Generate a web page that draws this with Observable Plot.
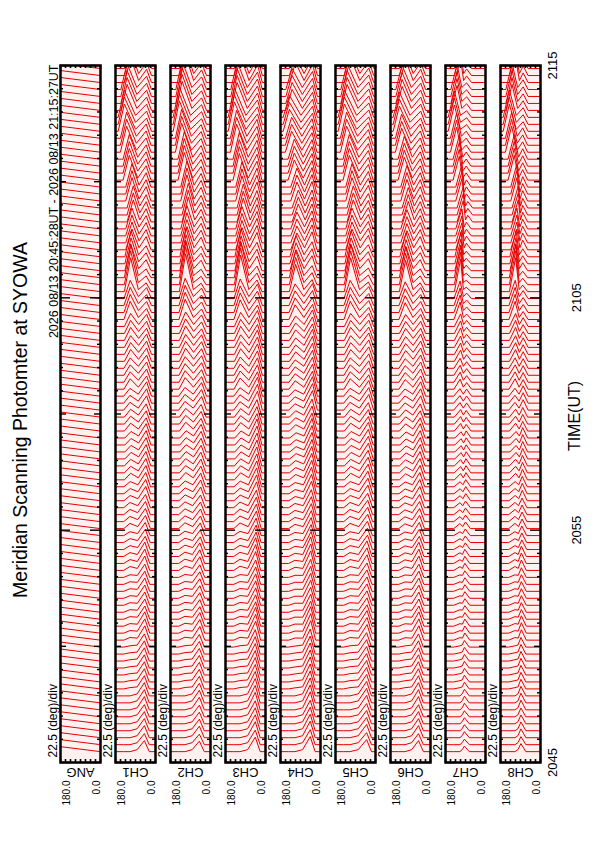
<!DOCTYPE html>
<html><head><meta charset="utf-8">
<script src="https://cdn.jsdelivr.net/npm/d3@7"></script>
<script src="https://cdn.jsdelivr.net/npm/@observablehq/plot@0.6"></script>
<style>
html,body{margin:0;padding:0;background:#fff;}
#chart{width:595px;height:842px;}
svg{font-family:"Liberation Sans",Arial,sans-serif;}
</style></head><body><div id="chart"></div>
<script>
// ---- data ----
const channels = ["ANG","CH1","CH2","CH3","CH4","CH5","CH6","CH7","CH8"];
const scanStart = 0.467;   // minutes after 20:45 (first scan 20:45:28)
const scanStep = 0.3;      // 18 s per scan
const scanCount = 100;
const angleTicks = [180,157.5,135,112.5,90,67.5,45,22.5,0];
const minuteTicks = [0,1,2,3,4,5,6,7,8,9,10,11,12,13,14,15,16,17,18,19,20,21,22,23,24,25,26,27,28,29,30];
const timeLabels = ["2045","2055","2105","2115"];
const timeLabelMinutes = [0,10,20,30];
// per-minute readings of the two auroral arcs (angle in deg, amplitude in counts)
const arcAAngle = [115,115,115,115,115,115,115,115,115,115,115,114,112,110,112,115,114,112,112,114,112,110,106,100,106,118,130,140,128,112,100];
const arcAAmp   = [0,0,0,1,1,2,2,2,3,3,4,4,5,5,6,6,8,9,10,14,26,20,16,17,18,19,20,21,20,19,18];
const arcBAngle = [50,50,50,50,50,48,48,48,48,46,45,44,43,42,42,40,40,40,40,40,42,42,42,42,42,42,42,40,40,40,40];
const arcBAmp   = [10,11,12,12,12,13,12,12,13,12,12,13,13,13,12,13,12,12,11,10,8,10,12,12,13,13,13,12,12,12,12];
// per-channel response
const gainA   = [0,1.3,1.45,1.4,1.05,1.3,1.2,1.25,1.3];
const gainB   = [0,1.1,1.05,1.45,1.5,1.2,1.1,0.55,0.8];
const offsetB = [0,0,0,-4,-4,-10,4,45,38];
const angSwing = 5;        // ANG channel deflection at 180 deg (counts)
const countsPerMinute = 23.2;

// ---- build traces ----
const rows = [];
for (let i = 0; i < scanCount; i++) {
  const t = scanStart + i * scanStep;
  const m = Math.min(30, Math.floor(t));
  channels.forEach((ch, c) => {
    let pts;
    if (c === 0) {
      pts = [[180, angSwing], [0, 0]];
    } else {
      const A = arcAAngle[m], aA = arcAAmp[m] * gainA[c];
      const B = Math.min(A - 20, arcBAngle[m] + offsetB[c]), aB = arcBAmp[m] * gainB[c];
      pts = [[180, 0], [A + 28, 0], [A, aA], [(A + B) / 2, 2], [B, aB], [Math.max(2, B - 22), 0], [0, 0]];
    }
    for (const [a, v] of pts) rows.push({ch, scan: i, angle: a, y: t + v / countsPerMinute});
  });
}

const tickLen = d => (d % 10 === 0 ? 10 : d % 5 === 0 ? 6 : 3) * 180 / 40;
const font = "Liberation Sans, Arial, sans-serif";
const last = "CH8", first = "ANG";

const chart = Plot.plot({
  width: 595, height: 842,
  marginLeft: 60, marginRight: 55, marginTop: 65, marginBottom: 80,
  style: {fontFamily: font, background: "white"},
  fx: {domain: channels, paddingInner: 15/55, paddingOuter: 0, axis: null},
  x: {domain: [180, 0], axis: null},
  y: {domain: [0, 30], axis: null},
  marks: [
    Plot.frame({fill: "#fff1ef"}),
    Plot.line(rows, {fx: "ch", x: "angle", y: "y", z: "scan", stroke: "#e40000", strokeWidth: 1, clip: true}),
    Plot.frame({stroke: "black", strokeWidth: 2.5}),
    Plot.ruleX(angleTicks, {x: d => d, y1: 30, y2: 30 - 3 / 23.2, stroke: "black", strokeWidth: 1.6}),
    Plot.ruleX(angleTicks, {x: d => d, y1: 0, y2: 3 / 23.2, stroke: "black", strokeWidth: 1.6}),
    Plot.ruleY(minuteTicks, {y: d => d, x1: 180, x2: d => 180 - tickLen(d), stroke: "black", strokeWidth: 1.4}),
    Plot.ruleY(minuteTicks, {y: d => d, x1: 0, x2: d => tickLen(d), stroke: "black", strokeWidth: 1.4}),
    // per-panel labels
    Plot.text(channels, {fx: d => d, text: () => "22.5 (deg)/div", frameAnchor: "bottom-left", dx: -7, dy: -5, rotate: -90, textAnchor: "start", lineAnchor: "middle", fontSize: 12, fill: "black"}),
    Plot.text(channels, {fx: d => d, text: () => "180.0", frameAnchor: "bottom-left", dx: 6, dy: 18, rotate: -90, textAnchor: "end", lineAnchor: "middle", fontSize: 10, fill: "black"}),
    Plot.text(channels, {fx: d => d, text: () => "0.0", frameAnchor: "bottom-right", dx: -4, dy: 18, rotate: -90, textAnchor: "end", lineAnchor: "middle", fontSize: 10, fill: "black"}),
    Plot.text(channels, {fx: d => d, text: d => d, frameAnchor: "bottom", dy: 10, rotate: 180, textAnchor: "middle", lineAnchor: "middle", fontSize: 13, fill: "black"}),
    // time axis labels (right side)
    Plot.text(timeLabels, {fx: () => last, text: d => d, y: (d, i) => timeLabelMinutes[i], frameAnchor: "right", rotate: -90, textAnchor: "middle", lineAnchor: "middle", fontSize: 13, fill: "black"}),
    // global titles
    Plot.text(["Meridian Scanning Photomter at SYOWA"], {fx: () => first, text: d => d, frameAnchor: "left", dx: -40, dy: 6, rotate: -90, textAnchor: "middle", lineAnchor: "middle", fontSize: 19.5, fill: "black"}),
    Plot.text(["2026 08/13 20:45:28UT - 2026 08/13 21:15:27UT"], {fx: () => first, text: d => d, frameAnchor: "top-left", dx: -7, dy: -1, rotate: -90, textAnchor: "end", lineAnchor: "middle", fontSize: 12.5, fill: "black"}),
    Plot.text(["TIME(UT)"], {fx: () => last, text: d => d, frameAnchor: "right", dx: 34, dy: 2, rotate: -90, textAnchor: "middle", lineAnchor: "middle", fontSize: 16, fill: "black"})
  ]
});
document.getElementById("chart").appendChild(chart);
// offset time tick labels: ends at 12 px, inner ones at 36 px
d3.select(chart).selectAll("text").each(function() {
  const s = this.textContent;
  const tr = this.getAttribute("transform") || "";
  if (s === "2045" || s === "2115") this.setAttribute("transform", tr.replace(/translate\(([-\d.]+),/, (m0, x) => `translate(${+x + 12},`));
  if (s === "2055" || s === "2105") this.setAttribute("transform", tr.replace(/translate\(([-\d.]+),/, (m0, x) => `translate(${+x + 36},`));
});
</script></body></html>
